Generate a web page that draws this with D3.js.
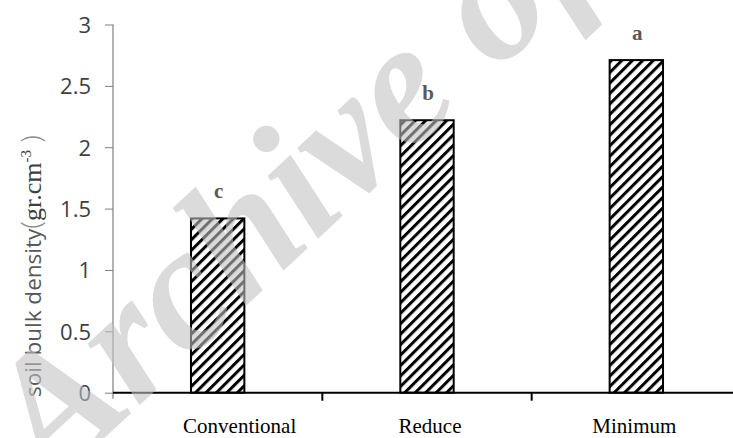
<!DOCTYPE html>
<html>
<head>
<meta charset="utf-8">
<script src="https://cdn.jsdelivr.net/npm/d3@7"></script>
<style>
html,body{margin:0;padding:0;background:#fff;}
svg{display:block;}
</style>
</head>
<body>
<svg id="chart" width="733" height="438"></svg>
<script>
// ---- data ----
const categories = ["Conventional", "Reduce", "Minimum"];
const values = [1.42, 2.22, 2.71];
const letters = ["c", "b", "a"];
const yTicks = [0, 0.5, 1, 1.5, 2, 2.5, 3];
const yTickLabels = ["0", "0.5", "1", "1.5", "2", "2.5", "3"];

// ---- layout ----
const W = 733, H = 438;
const x0 = 113, x1 = 741, yBottom = 392.7, yTop = 24.5;
const labelNudge = [22, 3, -2];

const svg = d3.select("#chart");

const defs = svg.append("defs");
const P = 7.4;
const pat = defs.append("pattern")
  .attr("id", "hatch")
  .attr("patternUnits", "userSpaceOnUse")
  .attr("width", P).attr("height", P)
  .attr("patternTransform", "rotate(45)");
pat.append("rect").attr("width", P).attr("height", P).attr("fill", "#fff");
pat.append("rect").attr("x", 0).attr("y", 0).attr("width", 3).attr("height", P).attr("fill", "#000");

const x = d3.scaleBand().domain(categories).range([x0, x1]).padding(0);
const y = d3.scaleLinear().domain([0, 3]).range([yBottom, yTop]);
const barW = x.bandwidth() * 0.255;

// y axis
const yAxis = d3.axisLeft(y).tickValues(yTicks).tickSize(8)
  .tickFormat((d, i) => yTickLabels[i]);
const gy = svg.append("g").attr("transform", `translate(${x0},0)`).call(yAxis);
gy.select(".domain").remove();
gy.selectAll(".tick line").attr("stroke", "#7f7f7f").attr("stroke-width", 1);
gy.selectAll(".tick text")
  .attr("x", -22)
  .attr("dy", "0.36em")
  .attr("fill", "#3f3f3f")
  .style("font-family", "'Open Sans', sans-serif")
  .style("font-size", "22px");
svg.append("line")
  .attr("x1", x0).attr("x2", x0)
  .attr("y1", y(3)).attr("y2", yBottom + 6)
  .attr("stroke", "#7f7f7f").attr("stroke-width", 1.2);

// bars
svg.append("g").selectAll("rect").data(categories).join("rect")
  .attr("x", d => x(d) + x.bandwidth() / 2 - barW / 2)
  .attr("width", barW)
  .attr("y", (d, i) => y(values[i]))
  .attr("height", (d, i) => yBottom - y(values[i]))
  .attr("fill", "url(#hatch)")
  .attr("stroke", "#000")
  .attr("stroke-width", 2);

// x axis
svg.append("line")
  .attr("x1", x0).attr("x2", W)
  .attr("y1", yBottom).attr("y2", yBottom)
  .attr("stroke", "#000").attr("stroke-width", 2);
svg.append("g").selectAll("line").data(categories.slice(1)).join("line")
  .attr("x1", d => x(d)).attr("x2", d => x(d))
  .attr("y1", yBottom).attr("y2", yBottom + 8)
  .attr("stroke", "#000").attr("stroke-width", 2);

// category labels
svg.append("g").selectAll("text").data(categories).join("text")
  .attr("x", (d, i) => x(d) + x.bandwidth() / 2 + labelNudge[i])
  .attr("y", 433)
  .attr("text-anchor", "middle")
  .attr("fill", "#000")
  .style("font-family", "'Liberation Serif', 'Times New Roman', serif")
  .style("font-size", "21px")
  .text(d => d);

// significance letters
svg.append("g").selectAll("text").data(categories).join("text")
  .attr("x", d => x(d) + x.bandwidth() / 2 + 1)
  .attr("y", (d, i) => y(values[i]) - 20)
  .attr("text-anchor", "middle")
  .attr("fill", "#595959")
  .style("font-family", "'Liberation Serif', 'Times New Roman', serif")
  .style("font-weight", "bold")
  .style("font-size", "21px")
  .text((d, i) => letters[i]);

// y title
const yt = svg.append("text")
  .attr("transform", "translate(41,397) rotate(-90)")
  .attr("text-anchor", "start");
yt.append("tspan")
  .attr("fill", "#595959")
  .style("font-family", "'Open Sans', sans-serif")
  .style("font-size", "22.5px")
  .text("soil bulk density");
yt.append("tspan")
  .attr("fill", "#8c8c8c")
  .style("font-family", "'Open Sans', sans-serif")
  .style("font-weight", "300")
  .style("font-size", "28px")
  .text("(");
yt.append("tspan")
  .attr("fill", "#404040")
  .style("font-family", "'Liberation Serif', serif")
  .style("font-size", "26px")
  .text("gr.cm");
yt.append("tspan")
  .attr("fill", "#404040")
  .attr("dy", -10)
  .style("font-family", "'Liberation Serif', serif")
  .style("font-size", "15px")
  .text("-3");
yt.append("tspan")
  .attr("fill", "#8c8c8c")
  .attr("dy", 10)
  .style("font-family", "'Open Sans', sans-serif")
  .style("font-weight", "300")
  .style("font-size", "28px")
  .text(" )");

// watermark
svg.append("text")
  .attr("transform", "translate(217,270) rotate(-43)")
  .attr("x", -269).attr("y", 46)
  .attr("fill", "#c2c2c2")
  .attr("opacity", 0.58)
  .style("font-family", "'Liberation Serif', serif")
  .style("font-style", "italic")
  .style("font-weight", "bold")
  .style("font-size", "175px")
  .text("Archive of SID");
</script>
</body>
</html>
